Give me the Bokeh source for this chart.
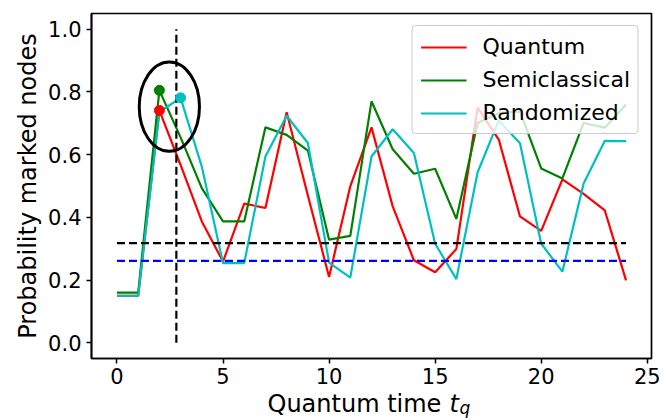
from bokeh.plotting import figure
from bokeh.models import (Range1d, FixedTicker, PrintfTickFormatter, Legend,
                          LegendItem, Label)
from bokeh.embed import file_html
from bokeh.resources import INLINE

# ---------------- data ----------------
t = list(range(25))
quantum = [0.150, 0.150, 0.741, 0.567, 0.387, 0.259, 0.444, 0.430, 0.735, 0.470,
           0.210, 0.499, 0.687, 0.435, 0.263, 0.225, 0.299, 0.750, 0.648, 0.403,
           0.357, 0.521, 0.475, 0.422, 0.199]
semiclassical = [0.160, 0.160, 0.805, 0.655, 0.493, 0.387, 0.387, 0.687, 0.663, 0.613,
                 0.329, 0.341, 0.770, 0.617, 0.539, 0.555, 0.395, 0.701, 0.733, 0.738,
                 0.556, 0.524, 0.701, 0.686, 0.760]
randomized = [0.150, 0.150, 0.736, 0.781, 0.562, 0.254, 0.254, 0.594, 0.724, 0.637,
              0.256, 0.208, 0.594, 0.681, 0.605, 0.316, 0.203, 0.543, 0.709, 0.636,
              0.316, 0.227, 0.508, 0.644, 0.643]
series_names = ["Quantum", "Semiclassical", "Randomized"]
series_colors = ["#ff0000", "#008000", "#00bfbf"]

hline_black = 0.318
hline_blue = 0.261
vline_x = 2.8
vline_y = [0.0, 1.0]

# highlighted optimum points (index into series)
mark_idx = [2, 2, 3]

# ellipse annotation (data units)
ell_x, ell_y, ell_w, ell_h = 2.47, 0.753, 2.84, 0.285

x_ticks = [0, 5, 10, 15, 20, 25]
y_ticks = [0.0, 0.2, 0.4, 0.6, 0.8, 1.0]

FONT = "DejaVu Sans"

# ---------------- figure ----------------
p = figure(width=669, height=420, output_backend="svg", toolbar_location=None,
           x_range=Range1d(-1.2, 25.2), y_range=Range1d(-0.05, 1.05),
           min_border_left=91, min_border_right=18, min_border_top=13,
           min_border_bottom=62)
p.background_fill_color = "white"
p.border_fill_color = "white"
p.outline_line_color = "black"
p.outline_line_width = 1.7
p.outline_line_alpha = 1.0
p.grid.visible = False

for ax in (p.xaxis, p.yaxis):
    ax.axis_line_color = "black"
    ax.axis_line_width = 1.7
    ax.major_tick_in = 0
    ax.major_tick_out = 5
    ax.major_tick_line_width = 1.5
    ax.major_tick_line_color = "black"
    ax.minor_tick_line_color = None
    ax.major_label_text_font = FONT
    ax.major_label_text_font_size = "21px"
    ax.major_label_text_color = "black"

p.xaxis.ticker = FixedTicker(ticks=x_ticks)
p.yaxis.ticker = FixedTicker(ticks=y_ticks)
p.yaxis.formatter = PrintfTickFormatter(format="%.1f")
p.xaxis.major_label_standoff = 4
p.yaxis.major_label_standoff = 5

p.yaxis.axis_label = "Probability marked nodes"
p.yaxis.axis_label_text_font = FONT
p.yaxis.axis_label_text_font_size = "24px"
p.yaxis.axis_label_text_font_style = "normal"
p.yaxis.axis_label_text_color = "black"
p.yaxis.axis_label_standoff = 3

# ---------------- series ----------------
renderers = []
for vals, col in zip([quantum, semiclassical, randomized], series_colors):
    r = p.line(t, vals, line_color=col, line_width=2.2)
    renderers.append(r)

# reference lines
p.line([t[0], t[-1]], [hline_black, hline_black], line_color="black",
       line_width=2.2, line_dash="8 4")
p.line([t[0], t[-1]], [hline_blue, hline_blue], line_color="#0000ff",
       line_width=2.2, line_dash="8 4")
p.line([vline_x, vline_x], vline_y, line_color="black", line_width=2.2,
       line_dash="8 4")

# highlighted points
for vals, col, idx in zip([quantum, semiclassical, randomized], series_colors, mark_idx):
    p.scatter([t[idx]], [vals[idx]], size=10, fill_color=col, line_color=col)

p.ellipse(x=[ell_x], y=[ell_y], width=[ell_w], height=[ell_h],
          fill_color=None, line_color="black", line_width=3)

# ---------------- legend ----------------
legend = Legend(items=[LegendItem(label=n, renderers=[r])
                       for n, r in zip(series_names, renderers)],
                location="top_right", margin=12, padding=8, spacing=8,
                glyph_width=46, glyph_height=24, label_height=24,
                label_standoff=16,
                label_text_font=FONT, label_text_font_size="22px",
                label_text_color="black",
                background_fill_color="white", background_fill_alpha=0.8,
                border_line_color="#cccccc", border_line_width=1.2,
                border_line_alpha=1.0)
if "border_radius" in Legend.properties():
    legend.border_radius = 4
p.add_layout(legend)

# ---------------- x axis label (with italic subscript) ----------------
# side-panel labels are not clipped to the frame; positions use frame scales
x0 = p.x_range.start
y0 = p.y_range.start
lab_start = 176   # px from frame left
p.add_layout(Label(x=x0, y=y0, x_offset=lab_start, y_offset=-45,
                   text="Quantum time", text_font=FONT, text_font_size="24px",
                   text_color="black", text_baseline="alphabetic", text_align="left"),
             "below")
p.add_layout(Label(x=x0, y=y0, x_offset=lab_start + 182, y_offset=-45,
                   text="t", text_font=FONT, text_font_size="24px",
                   text_font_style="italic",
                   text_color="black", text_baseline="alphabetic", text_align="left"),
             "left")
p.add_layout(Label(x=x0, y=y0, x_offset=lab_start + 192, y_offset=-49,
                   text="q", text_font=FONT, text_font_size="17px",
                   text_font_style="italic",
                   text_color="black", text_baseline="alphabetic", text_align="left"),
             "right")

open("out.html", "w").write(file_html(p, INLINE))
